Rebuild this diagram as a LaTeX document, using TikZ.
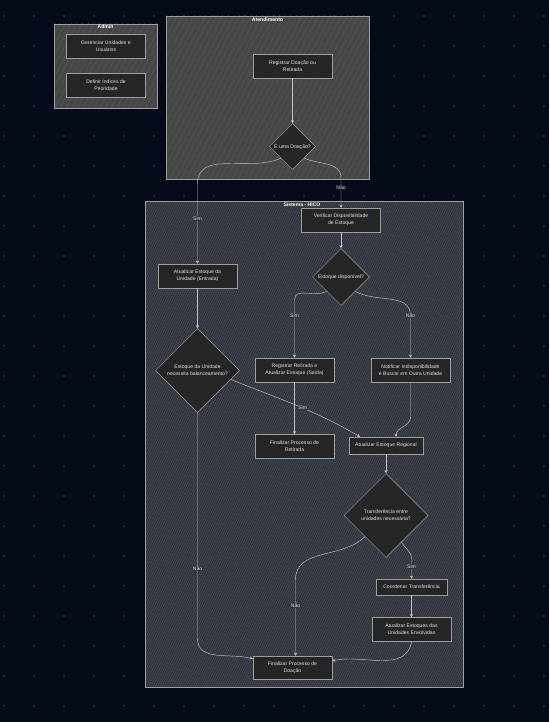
\documentclass[tikz,border=0pt]{standalone}
\usepackage{fontspec}
\setmainfont{Liberation Sans}
\usetikzlibrary{positioning,shapes.geometric,arrows.meta,patterns.meta}
\definecolor{Fondo}{HTML}{060B19}
\definecolor{Punto}{HTML}{2C3240}
\definecolor{GrupoClaro}{HTML}{474747}
\definecolor{RayaClara}{HTML}{5E5E5E}
\definecolor{GrupoOscuro}{HTML}{30343C}
\definecolor{RayaOscura}{HTML}{50555E}
\definecolor{Caja}{HTML}{262626}
\definecolor{Borde}{HTML}{9E9E9E}
\definecolor{Linea}{HTML}{C4C4C4}
\definecolor{Letra}{HTML}{E4E4E4}
\tikzstyle{Paso}=[rectangle, draw=Borde, fill=Caja, line width=0.5pt, text=Letra, align=center, minimum width=79pt, minimum height=24pt, inner sep=1pt, font=\fontsize{5.1}{7}\selectfont]
\tikzstyle{Decision}=[diamond, aspect=1, draw=Borde, fill=Caja, line width=0.5pt, text=Letra, align=center, minimum size=46pt, inner sep=0pt, font=\fontsize{5.1}{7}\selectfont]
\tikzstyle{GrupoClaroEstilo}=[draw=Borde, line width=0.6pt, preaction={fill=GrupoClaro}, pattern={Lines[angle=62,distance=5pt,line width=0.3pt]}, pattern color=RayaClara]
\tikzstyle{GrupoOscuroEstilo}=[draw=Borde, line width=0.6pt, preaction={fill=GrupoOscuro}, pattern={Lines[angle=64,distance=2pt,line width=0.35pt]}, pattern color=RayaOscura]
\tikzstyle{Titulo}=[text=white, inner sep=0pt, font=\fontsize{5.1}{7}\selectfont\bfseries]
\tikzstyle{Conector}=[-{Stealth[length=3pt,width=3pt]}, draw=Linea, line width=0.45pt]
\tikzstyle{Etiqueta}=[text=Letra, fill=GrupoOscuro, inner sep=0.6pt, font=\fontsize{5.1}{7}\selectfont]

\begin{document}
\begin{tikzpicture}[x=1pt, y=1pt]
	%Fondo
	\fill[Fondo] (0,0) rectangle (549,-722);
	\foreach \x in {4,34,...,544}
		\foreach \y in {16,46,...,706}
			\fill[Punto] (\x,-\y) circle (1.1pt);

	%Grupos
	\draw[GrupoClaroEstilo] (54,-24) rectangle (157,-108);
	\node[Titulo] (tadmin) at (105.5,-27) {Admin};
	\draw[GrupoClaroEstilo] (166,-16) rectangle (369,-179);
	\node[Titulo] (tatendimento) at (267.5,-20) {Atendimento};
	\draw[GrupoOscuroEstilo] (145,-201) rectangle (463,-687);
	\node[Titulo] (tsistema) at (302,-204.5) {Sistema - HICO};

	%Nodos
	\node[Paso]		(gerenciar)		at (106,-46.5)				{Gerenciar Unidades e\\Usuários};
	\node[Paso]		(definir)		[below=14pt of gerenciar]		{Definir Índices de\\Prioridade};

	\node[Paso]		(registrar)		at (292.5,-66)				{Registrar Doação ou\\Retirada};
	\node[Decision]	(doacao)		[below=45pt of registrar]		{É uma Doação?};

	\node[Paso]		(verificar)		at (341,-220)				{Verificar Disponibilidade\\de Estoque};
	\node[Decision, minimum size=57pt]	(disp)	[below=16pt of verificar]	{Estoque disponível?};
	\node[Paso]		(entrada)		at (197.5,-276)				{Atualizar Estoque da\\Unidade (Entrada)};
	\node[Decision, minimum size=84pt]	(balanc)	[below=40pt of entrada]	{Estoque da Unidade\\necessita balanceamento?};
	\node[Paso]		(saida)			at (294.5,-370)				{Registrar Retirada e\\Atualizar Estoque (Saída)};
	\node[Paso]		(notificar)		at (410.5,-370)				{Notificar Indisponibilidade\\e Buscar em Outra Unidade};
	\node[Paso]		(fimretirada)	[below=52pt of saida]			{Finalizar Processo de\\Retirada};
	\node[Paso, minimum width=74pt, minimum height=17pt]	(regional)	at (386,-445.5)	{Atualizar Estoque Regional};
	\node[Decision, minimum size=84pt]	(transf)	[below=19pt of regional]	{Transferência entre\\unidades necessária?};
	\node[Paso, minimum width=71pt, minimum height=16pt]	(coordenar)	at (411.5,-587)	{Coordenar Transferência};
	\node[Paso]		(envolvidas)	[below=22pt of coordenar]		{Atualizar Estoques das\\Unidades Envolvidas};
	\node[Paso, minimum height=23pt]	(fimdoacao)	at (292.5,-667.5)	{Finalizar Processo de\\Doação};

	%Lineas
	\draw[Conector] (registrar.south) -- (doacao.north);
	\draw[Conector] (doacao.south west) to[out=-155,in=90] ([yshift=80pt]entrada.north) -- node[Etiqueta,pos=0.44]{Sim} (entrada.north);
	\draw[Conector] (doacao.south east) to[out=-25,in=90] ([yshift=30pt]verificar.north) -- node[Etiqueta,fill=Fondo,pos=0.33]{Não} (verificar.north);
	\draw[Conector] (verificar.south) -- (disp.north);
	\draw[Conector] (disp.south west) to[out=-150,in=90] ([yshift=58pt]saida.north) -- node[Etiqueta,pos=0.28]{Sim} (saida.north);
	\draw[Conector] (disp.south east) to[out=-30,in=90] ([yshift=42pt]notificar.north) -- node[Etiqueta,pos=0]{Não} (notificar.north);
	\draw[Conector] (entrada.south) -- (balanc.north);
	\draw[Conector] (balanc.-15) to[out=-22,in=150] node[Etiqueta,pos=0.55]{Sim} ([xshift=-26pt]regional.north);
	\draw[Conector] (balanc.south) -- node[Etiqueta,pos=0.69]{Não} ++(0,-226) to[out=-90,in=165] ([yshift=-3pt]fimdoacao.north west);
	\draw[Conector] (saida.south) -- (fimretirada.north);
	\draw[Conector] (notificar.south) -- ++(0,-35) to[out=-90,in=90] ([xshift=10pt]regional.north);
	\draw[Conector] (regional.south) -- (transf.north);
	\draw[Conector] (transf.-60) to[out=-60,in=90] ([yshift=20pt]coordenar.north) -- node[Etiqueta,pos=0.4]{Sim} (coordenar.north);
	\draw[Conector] (transf.south west) to[out=-135,in=90] ([xshift=3pt,yshift=76pt]fimdoacao.north) -- node[Etiqueta,pos=0.34]{Não} ([xshift=3pt]fimdoacao.north);
	\draw[Conector] (coordenar.south) -- (envolvidas.north);
	\draw[Conector] (envolvidas.south) to[out=-100,in=12] ([yshift=-5pt]fimdoacao.north east);

\end{tikzpicture}
\end{document}
